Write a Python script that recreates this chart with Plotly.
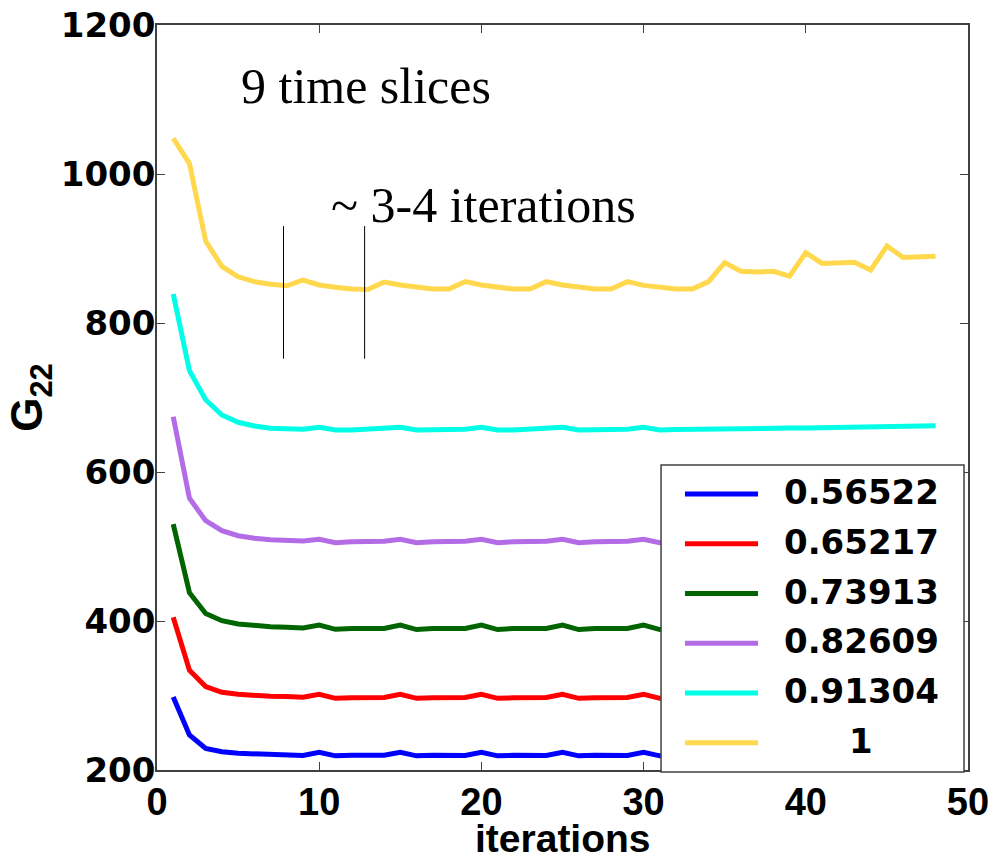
import plotly.graph_objects as go

# Iteration index
iterations = list(range(1, 49))

# G22 per iteration for each parameter value
g_056522 = [298, 247, 229, 224.6, 222.4, 221.5, 221, 220.5, 219.5, 223.7,
            219, 219.8, 220, 219.8, 223.7, 219, 219.8, 220, 219.6, 223.7,
            219, 219.8, 220, 219.6, 223.7, 219, 219.8, 220, 219.6, 223.7,
            219, 219.8, 220.2, 220.5, 221, 221.2, 221.4, 221.6, 221.8, 222,
            222.3, 222.5, 222.8, 223, 223.3, 223.5, 223.8, 224]
g_065217 = [405, 334, 312, 304.3, 301.6, 299.8, 299, 298.5, 297.6, 301.6,
            296.2, 297, 297.5, 297.4, 301.6, 296.2, 297, 297.5, 297.4, 301.6,
            296.2, 297, 297.5, 297.4, 301.6, 296.2, 297, 297.5, 297.4, 301.6,
            296.2, 297, 297.4, 297.8, 298.2, 298.5, 298.8, 299, 299.3, 299.6,
            299.9, 300.2, 300.5, 300.8, 301, 301.3, 301.6, 301.8]
g_073913 = [530, 438, 410, 400.4, 396, 393.7, 392.4, 391.5, 390.6, 394.6,
            388.8, 390, 390.5, 390, 394.6, 388.5, 390, 390.5, 390, 394.6,
            388.5, 390, 390.5, 390, 394.6, 388.5, 390, 390.5, 390, 394.6,
            388.5, 389.5, 390, 390.4, 390.8, 391.2, 391.5, 391.8, 392.1, 392.4,
            392.7, 393, 393.3, 393.6, 393.9, 394.2, 394.5, 394.8]
g_082609 = [674.3, 564.7, 534.7, 521.3, 514.5, 511, 509.2, 508.3, 507.4, 509.6,
            505, 506.5, 507, 507, 509.6, 505, 506.5, 507, 507, 509.6,
            505, 506.5, 507, 507, 509.6, 505, 506.5, 507, 507, 509.6,
            505, 506, 506.5, 507, 507.4, 507.8, 508.2, 508.6, 509, 509.4,
            509.8, 510.2, 510.6, 511, 511.4, 511.8, 512.2, 512.6]
g_091304 = [839, 736, 697, 676.5, 666.7, 661.7, 658.6, 657.3, 657.3, 660,
            656.4, 656.4, 657.5, 657.5, 660, 656.4, 656.4, 657.5, 657.5, 660,
            656.4, 656.4, 657.5, 657.5, 660, 656.4, 656.4, 657.5, 657.5, 660,
            656.5, 657, 657.5, 657.7, 658, 658.2, 658.5, 658.7, 659, 659.2,
            659.5, 660, 660.3, 660.7, 661, 661.3, 661.7, 662]
g_1 = [1048, 1014, 910, 876, 862, 855.5, 852, 850, 857.7, 851,
       848, 845.5, 845, 855, 851, 848, 845.5, 845.5, 855.5, 851,
       848.5, 845.5, 845.5, 855.5, 851, 848, 845.6, 845.6, 855.5, 850.5,
       847.5, 845.5, 845.6, 855.5, 881, 869.4, 868.5, 869.4, 863, 894.4,
       880, 880, 881.5, 871, 903.4, 888, 888, 889.5]

series_names = ["0.56522", "0.65217", "0.73913", "0.82609", "0.91304", "1"]
series_values = [g_056522, g_065217, g_073913, g_082609, g_091304, g_1]
series_colors = ["#0000FF", "#FF0000", "#006400", "#B36BE6", "#00FFE6", "#FFD84D"]

# Two reference markers bracketing the settling period
marker_x = [7.8, 12.8]
marker_y = [752, 930]

x_ticks = [0, 10, 20, 30, 40, 50]
y_ticks = [200, 400, 600, 800, 1000, 1200]

axis_line = "#404040"

fig = go.Figure()
for name, vals, col in zip(series_names, series_values, series_colors):
    fig.add_trace(go.Scatter(
        x=iterations, y=vals, mode="lines", name=name,
        line=dict(color=col, width=5), showlegend=False,
    ))

for mx in marker_x:
    fig.add_shape(type="line", xref="x", yref="y",
                  x0=mx, x1=mx, y0=marker_y[0], y1=marker_y[1],
                  line=dict(color="black", width=1))

fig.add_annotation(x=5.05, y=1118, xref="x", yref="y", text="9 time slices",
                   showarrow=False, xanchor="left", yanchor="middle",
                   font=dict(family="Liberation Serif", size=50, color="black"))
fig.add_annotation(x=10.6, y=958, xref="x", yref="y", text="~ 3-4 iterations",
                   showarrow=False, xanchor="left", yanchor="middle",
                   font=dict(family="Liberation Serif", size=50, color="black"))

# x-axis label, set at the very bottom edge of the figure
fig.add_annotation(x=0.5, y=-0.1222, xref="paper", yref="paper",
                   text="iterations", showarrow=False,
                   xanchor="center", yanchor="bottom", borderpad=0,
                   font=dict(family="Liberation Sans", size=39, color="black",
                             weight="bold"))

# Boxed key in the lower right corner of the axes (drawn over the curves)
key_left, key_right = 0.6215, 0.9951
key_bottom, key_top = -0.0027, 0.4094
key_first_row, key_row_step = 0.3705, 0.0668
key_line_x = (0.6510, 0.7411)
key_text_x = 0.8681

fig.add_shape(type="rect", xref="paper", yref="paper", layer="above",
              x0=key_left, x1=key_right, y0=key_bottom, y1=key_top,
              fillcolor="white", line=dict(color=axis_line, width=1.5))
for i, (name, col) in enumerate(zip(series_names, series_colors)):
    ry = key_first_row - i * key_row_step
    fig.add_shape(type="line", xref="paper", yref="paper", layer="above",
                  x0=key_line_x[0], x1=key_line_x[1], y0=ry, y1=ry,
                  line=dict(color=col, width=5))
    fig.add_annotation(x=key_text_x, y=ry, xref="paper", yref="paper",
                       text=name, showarrow=False, xanchor="center",
                       yanchor="middle", yshift=2,
                       font=dict(family="DejaVu Sans", size=34, color="black",
                                 weight="bold"))

fig.update_xaxes(
    range=[0, 50], tickvals=x_ticks, ticks="inside", ticklen=8,
    tickcolor=axis_line, tickwidth=1.2, showline=True, linecolor=axis_line,
    linewidth=1.5, mirror="ticks", showgrid=False, zeroline=False,
    ticklabelstandoff=-2,
    tickfont=dict(family="Liberation Sans", size=38, color="black", weight="bold"),
)
fig.update_yaxes(
    range=[200, 1200], tickvals=y_ticks, ticks="inside", ticklen=8,
    tickcolor=axis_line, tickwidth=1.2, showline=True, linecolor=axis_line,
    linewidth=1.5, mirror="ticks", showgrid=False, zeroline=False,
    ticklabelstandoff=-7,
    tickfont=dict(family="DejaVu Sans", size=34, color="black", weight="bold"),
    title=dict(text="G<sub>22</sub>", standoff=4,
               font=dict(family="Liberation Sans", size=44, color="black", weight="bold")),
)

fig.update_layout(
    width=994, height=861,
    margin=dict(l=157, r=26, t=25, b=91, autoexpand=False),
    paper_bgcolor="white", plot_bgcolor="white",
    showlegend=False,
)

fig.write_html("out.html")
